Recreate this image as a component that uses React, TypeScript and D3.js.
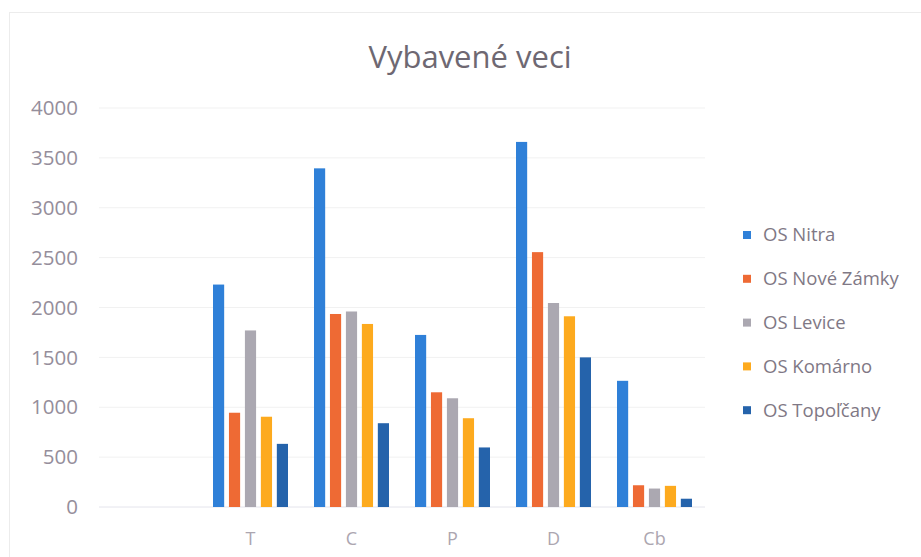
import React from "react";
import * as d3 from "d3";

const categories = ["", "T", "C", "P", "D", "Cb"];
const seriesNames = ["OS Nitra", "OS Nové Zámky", "OS Levice", "OS Komárno", "OS Topoľčany"];
const seriesColors = ["#2f80d8", "#ee6a34", "#aba8b1", "#fdaa1e", "#2563ab"];
// values per series, in category order (first category is empty)
const nitra = [null, 2230, 3395, 1725, 3660, 1265];
const noveZamky = [null, 945, 1935, 1150, 2555, 218];
const levice = [null, 1770, 1960, 1090, 2045, 185];
const komarno = [null, 905, 1835, 890, 1912, 212];
const topolcany = [null, 633, 840, 597, 1500, 83];
const yTicks = [0, 500, 1000, 1500, 2000, 2500, 3000, 3500, 4000];

const seriesValues = [nitra, noveZamky, levice, komarno, topolcany];

const W = 921;
const H = 557;
const font = "'Open Sans', sans-serif";

export default function App() {
  const x = d3.scaleBand<string>().domain(categories).range([99, 705]);
  const x1 = d3.scaleBand<string>().domain(seriesNames).range([13, 88]).paddingInner(0.3);
  const y = d3.scaleLinear().domain([0, 4000]).range([507, 108]);

  return (
    <svg width={W} height={H} style={{ position: "absolute", left: 0, top: 0, background: "#fff" }}>
      <rect x={9.5} y={12.5} width={W + 10} height={H + 10} fill="none" stroke="#ececec" />
      <text x={470} y={68} textAnchor="middle" fontFamily={font} fontSize={31} fill="#6e6872">
        Vybavené veci
      </text>
      {yTicks.map((t) => (
        <g key={t}>
          <line x1={99} x2={705} y1={y(t)} y2={y(t)} stroke={t === 0 ? "#e4e4ec" : "#f1f1f1"} />
          <text x={78} y={y(t)} dy="0.35em" textAnchor="end" fontFamily={font} fontSize={20.5} fill="#958e9b">
            {t}
          </text>
        </g>
      ))}
      {categories.map((c) => (
        <text key={c} x={(x(c) ?? 0) + x.bandwidth() / 2} y={545} textAnchor="middle" fontFamily={font} fontSize={18} fill="#aca6b0">
          {c}
        </text>
      ))}
      {seriesNames.map((s, si) => (
        <g key={s}>
          {categories.map((c, ci) => {
            const v = seriesValues[si][ci];
            if (v == null) return null;
            return (
              <rect
                key={c}
                x={(x(c) ?? 0) + (x1(s) ?? 0)}
                y={y(v)}
                width={x1.bandwidth()}
                height={y(0) - y(v)}
                fill={seriesColors[si]}
              />
            );
          })}
        </g>
      ))}
      {seriesNames.map((s, i) => (
        <g key={s} transform={`translate(743, ${235 + i * 43.8})`}>
          <rect x={0} y={-4} width={8} height={8} fill={seriesColors[i]} />
          <text x={20} y={0} dy="0.35em" fontFamily={font} fontSize={18.5} fill="#7f7885">
            {s}
          </text>
        </g>
      ))}
    </svg>
  );
}
